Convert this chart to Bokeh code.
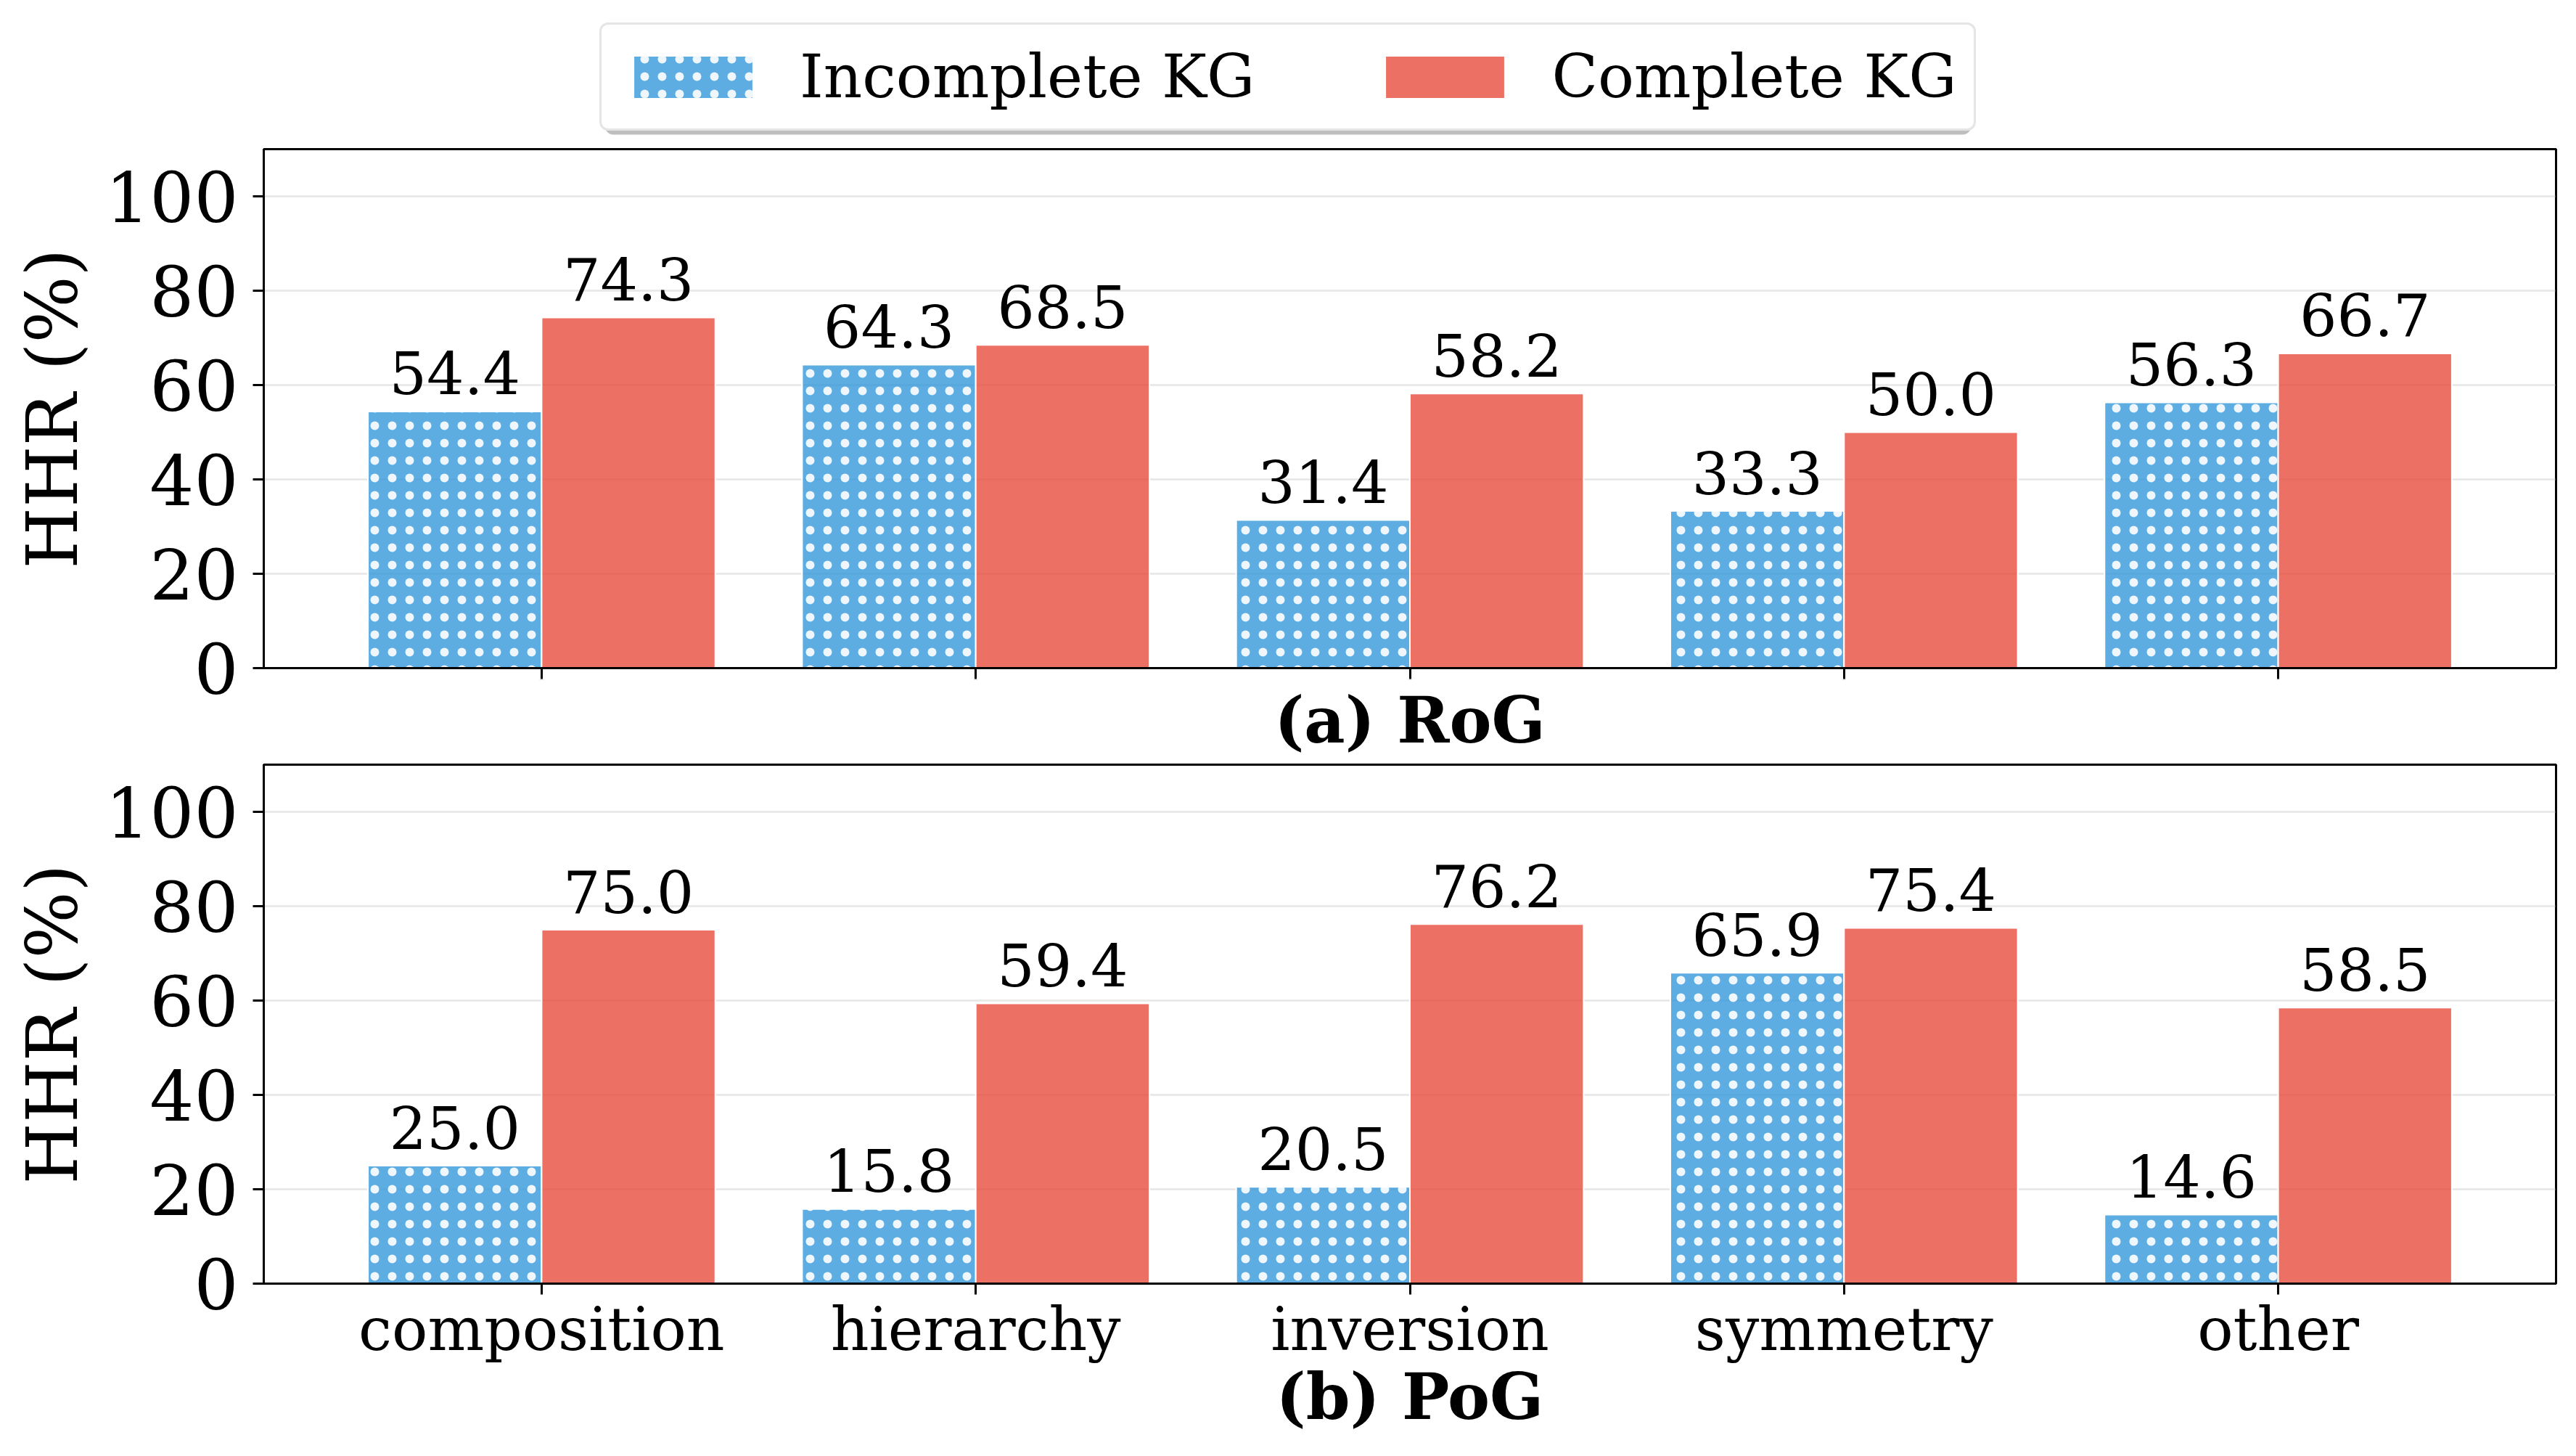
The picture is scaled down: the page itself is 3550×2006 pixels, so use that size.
from bokeh.plotting import figure
from bokeh.models import (ColumnDataSource, FactorRange, Range1d, Legend, LegendItem,
                          BoxAnnotation, FixedTicker)
from bokeh.transform import dodge
from bokeh.layouts import column
from bokeh.embed import file_html
from bokeh.resources import INLINE
from bokeh.core.properties import value

# ---------------- data ----------------
categories = ["composition", "hierarchy", "inversion", "symmetry", "other"]
rog_incomplete = [54.4, 64.3, 31.4, 33.3, 56.3]
rog_complete = [74.3, 68.5, 58.2, 50.0, 66.7]
pog_incomplete = [25.0, 15.8, 20.5, 65.9, 14.6]
pog_complete = [75.0, 59.4, 76.2, 75.4, 58.5]
y_ticks = [0, 20, 40, 60, 80, 100]
series_names = ["Incomplete KG", "Complete KG"]
panel_titles = ["(a) RoG", "(b) PoG"]
y_label = "HHR (%)"

BLUE = "#3498DB"
RED = "#E74C3C"
FONT = "DejaVu Serif"
FULL_W = 3548
FRAME_LEFT = 363

INC_STYLE = dict(fill_color=BLUE, fill_alpha=0.8, line_color="white", line_width=2,
                 hatch_pattern="dot", hatch_color="white", hatch_scale=24,
                 hatch_weight=2, hatch_alpha=0.9)
COMP_STYLE = dict(fill_color=RED, fill_alpha=0.8, line_color="white", line_width=2)


def make_panel(inc, comp, title, top_border, bottom_border, show_cat_labels):
    src = ColumnDataSource(dict(
        cat=categories, inc=inc, comp=comp,
        inc_lbl=["%.1f" % v for v in inc], comp_lbl=["%.1f" % v for v in comp]))
    p = figure(x_range=FactorRange(*categories, range_padding=0.056,
                                   range_padding_units="percent"),
               y_range=Range1d(0, 110),
               frame_width=3159, frame_height=715,
               min_border_left=FRAME_LEFT, min_border_right=FULL_W - FRAME_LEFT - 3159,
               min_border_top=top_border, min_border_bottom=bottom_border,
               output_backend="svg", toolbar_location=None,
               background_fill_color="white", border_fill_color="white")
    p.vbar(x=dodge("cat", -0.2, range=p.x_range), top="inc", width=0.4, source=src, **INC_STYLE)
    p.vbar(x=dodge("cat", 0.2, range=p.x_range), top="comp", width=0.4, source=src, **COMP_STYLE)
    for col, lbl, off in (("inc", "inc_lbl", -0.2), ("comp", "comp_lbl", 0.2)):
        p.text(x=dodge("cat", off, range=p.x_range), y=col, text=lbl, source=src,
               text_align="center", text_baseline="alphabetic", y_offset=-53,
               text_font=value(FONT), text_font_size=value("81px"), text_color="black")

    p.outline_line_color = "black"
    p.outline_line_width = 3
    p.xgrid.grid_line_color = None
    p.ygrid.ticker = FixedTicker(ticks=y_ticks)
    p.ygrid.grid_line_color = "#b0b0b0"
    p.ygrid.grid_line_alpha = 0.3
    p.ygrid.grid_line_width = 2.5

    ya = p.yaxis[0]
    ya.ticker = FixedTicker(ticks=y_ticks)
    ya.axis_label = y_label
    ya.axis_label_text_font = FONT
    ya.axis_label_text_font_style = "normal"
    ya.axis_label_text_font_size = "97px"
    ya.axis_label_text_color = "black"
    ya.axis_label_standoff = 13
    ya.major_label_text_font = FONT
    ya.major_label_text_font_size = "96px"
    ya.major_label_text_color = "black"
    ya.major_label_standoff = 20
    ya.major_tick_out = 15
    ya.major_tick_in = 0
    ya.minor_tick_out = 0
    ya.minor_tick_in = 0
    ya.axis_line_width = 3
    ya.major_tick_line_width = 3

    xa = p.xaxis[0]
    xa.axis_label = title
    xa.axis_label_text_font = FONT
    xa.axis_label_text_font_style = "bold"
    xa.axis_label_text_font_size = "87px"
    xa.axis_label_text_color = "black"
    xa.major_label_text_font = FONT
    xa.major_label_text_color = "black"
    if show_cat_labels:
        xa.major_label_text_font_size = "82px"
        xa.major_label_standoff = 0
        xa.axis_label_standoff = -9
    else:
        xa.major_label_text_font_size = "1px"
        xa.major_label_overrides = {c: "" for c in categories}
        xa.major_label_standoff = 0
        xa.axis_label_standoff = 1
    xa.major_tick_out = 15
    xa.major_tick_in = 0
    xa.axis_line_width = 3
    xa.major_tick_line_width = 3
    return p


# ---------------- legend strip ----------------
LEG_H = 190
pl = figure(width=FULL_W, height=LEG_H, x_range=Range1d(0, 1), y_range=Range1d(0, 1),
            min_border=0, output_backend="svg", toolbar_location=None,
            background_fill_color="white", border_fill_color="white")
pl.axis.visible = False
pl.grid.visible = False
pl.outline_line_color = None
# legend proxies placed outside the visible range
r_inc = pl.vbar(x=[5], top=[5], bottom=[4], width=0.4, **INC_STYLE)
r_comp = pl.vbar(x=[6], top=[5], bottom=[4], width=0.4, **COMP_STYLE)

LEG_LEFT = 826
shadow = BoxAnnotation(left=LEG_LEFT + 7, right=2716, top=39, bottom=185,
                       left_units="canvas", right_units="canvas",
                       top_units="canvas", bottom_units="canvas",
                       fill_color="#8a8a8a", fill_alpha=0.55, line_color=None)
try:
    shadow.border_radius = 12
except Exception:
    pass
pl.add_layout(shadow)

legend = Legend(items=[LegendItem(label=series_names[0], renderers=[r_inc]),
                       LegendItem(label=series_names[1], renderers=[r_comp])],
                orientation="horizontal", location=(LEG_LEFT - FRAME_LEFT, 10), margin=0,
                padding=23, spacing=159, glyph_width=206, glyph_height=74,
                label_standoff=44, label_text_font=FONT, label_text_font_size="83px",
                label_text_color="black",
                border_line_color="#cccccc", border_line_width=3,
                background_fill_color="white", background_fill_alpha=1.0)
try:
    legend.border_radius = 12
except Exception:
    pass
pl.add_layout(legend, "center")

p1 = make_panel(rog_incomplete, rog_complete, panel_titles[0], 205 - LEG_H, 130, False)
p2 = make_panel(pog_incomplete, pog_complete, panel_titles[1], 3, 220, True)

layout = column(pl, p1, p2, spacing=0)
open("out.html", "w").write(file_html(layout, INLINE))
